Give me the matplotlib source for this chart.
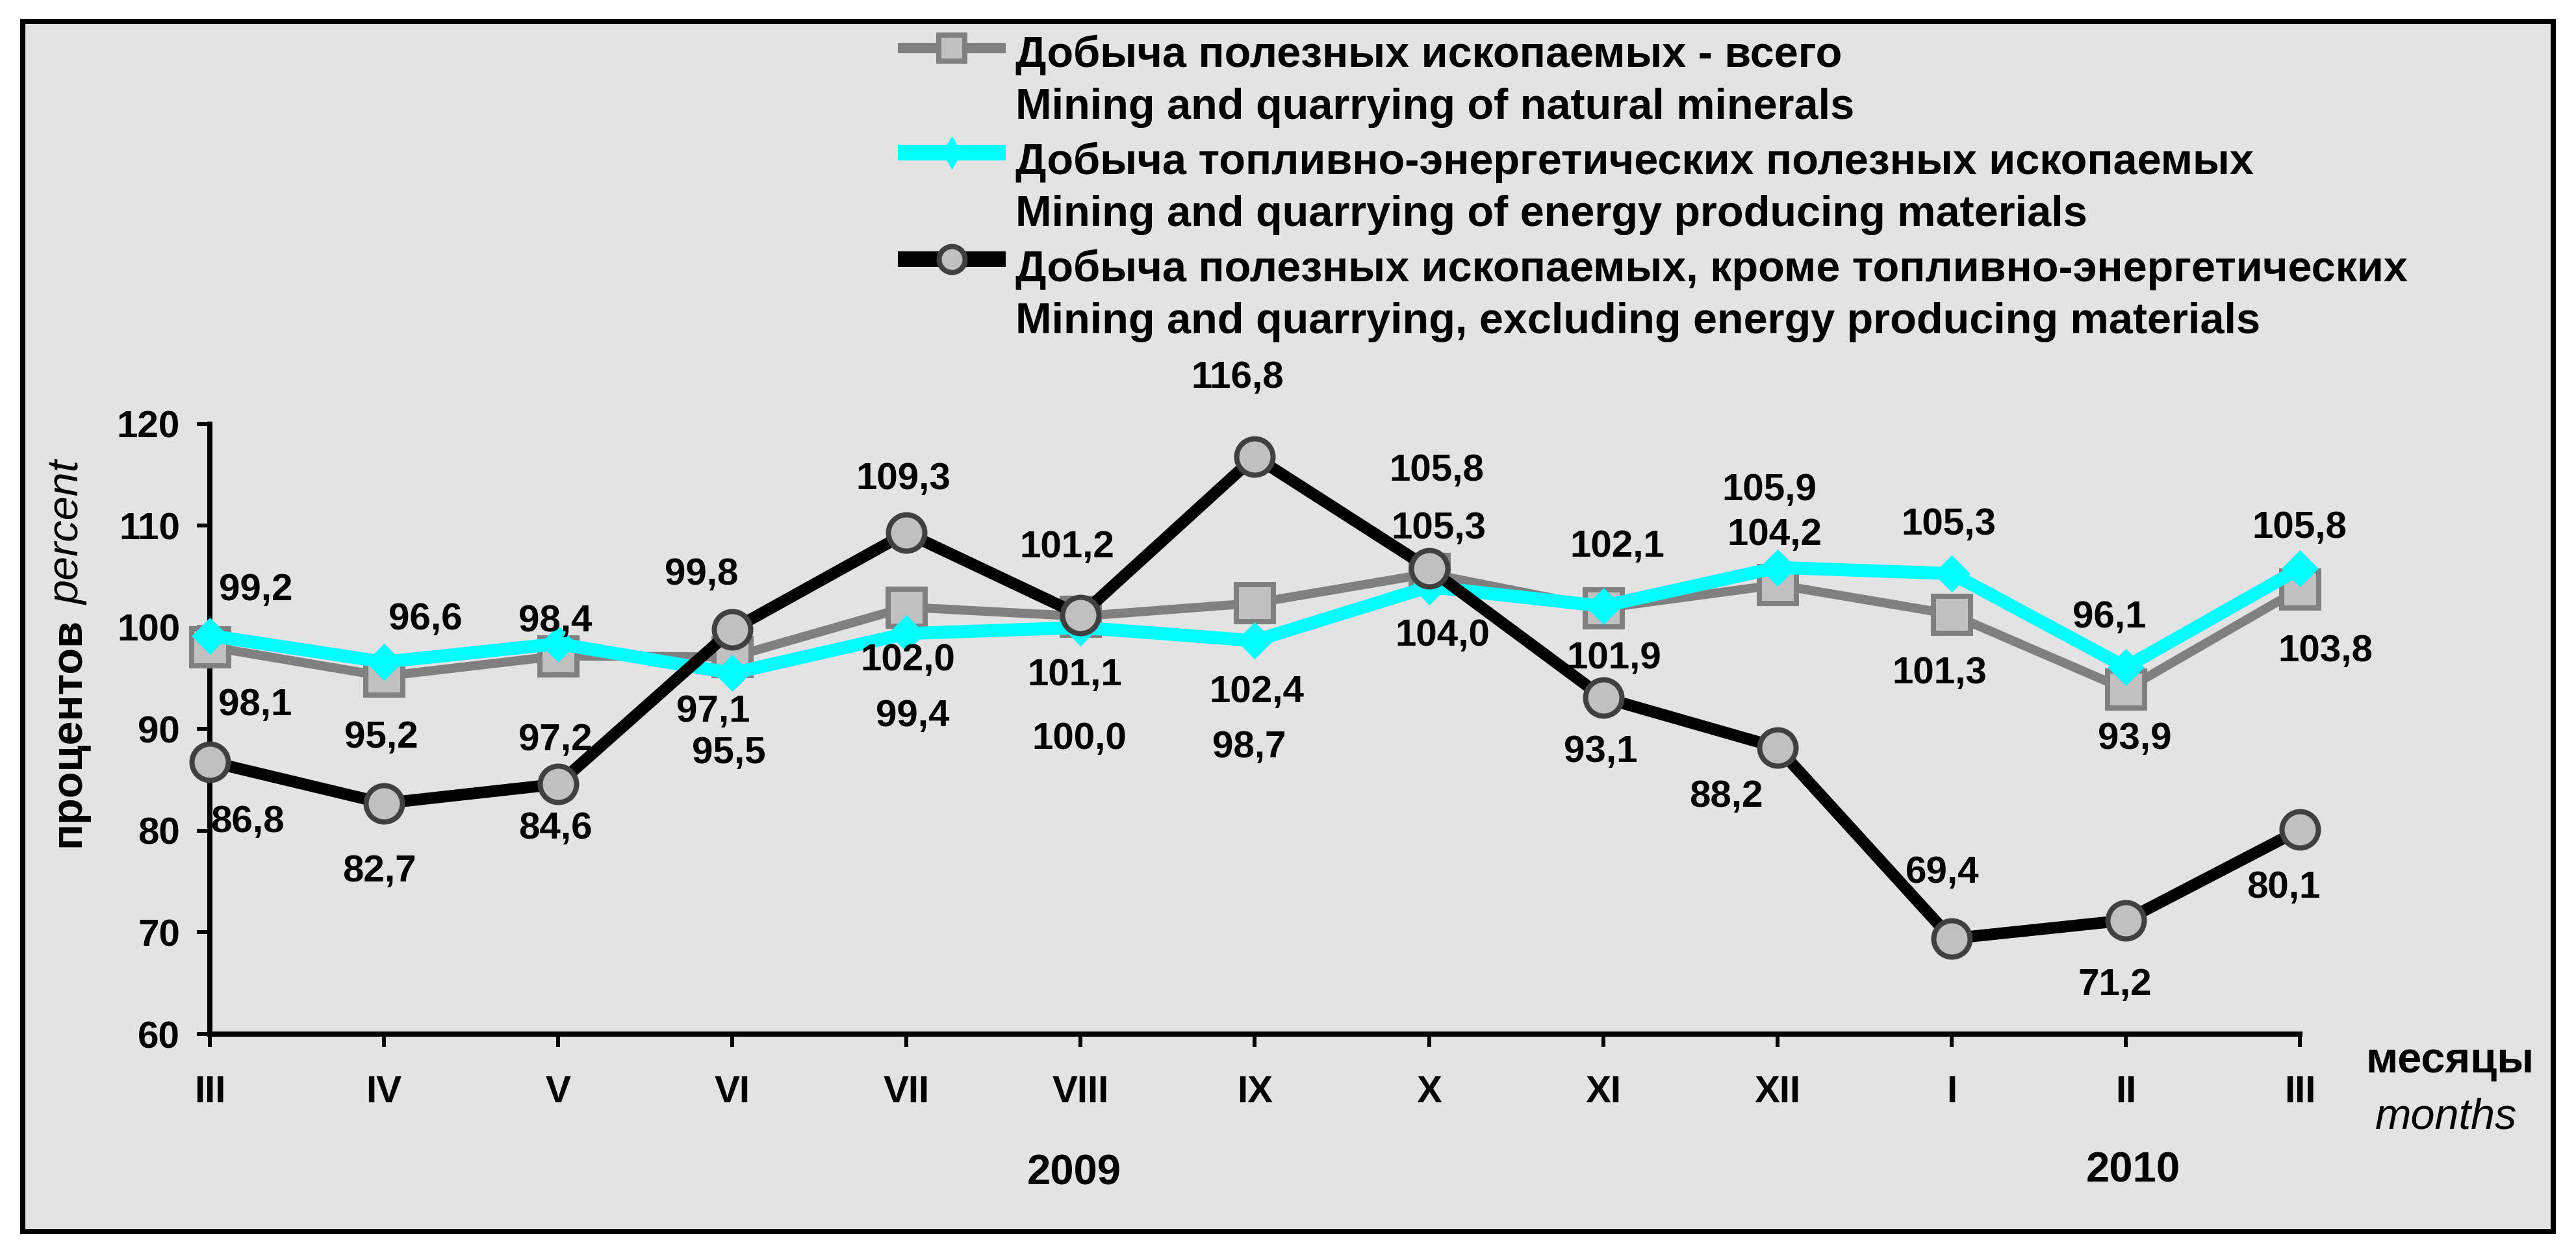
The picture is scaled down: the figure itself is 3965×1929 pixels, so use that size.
import matplotlib
matplotlib.use("Agg")
import matplotlib.pyplot as plt
from matplotlib.lines import Line2D
from matplotlib.patches import Rectangle

plt.rcParams['font.family'] = ['Liberation Sans', 'DejaVu Sans']

# ---------------- data ----------------
months = ['III', 'IV', 'V', 'VI', 'VII', 'VIII', 'IX', 'X', 'XI', 'XII', 'I', 'II', 'III']
total = [98.1, 95.2, 97.2, 97.1, 102.0, 101.1, 102.4, 105.3, 101.9, 104.2, 101.3, 93.9, 103.8]
energy = [99.2, 96.6, 98.4, 95.5, 99.4, 100.0, 98.7, 104.0, 102.1, 105.9, 105.3, 96.1, 105.8]
excl = [86.8, 82.7, 84.6, 99.8, 109.3, 101.2, 116.8, 105.8, 93.1, 88.2, 69.4, 71.2, 80.1]
yticks = [60, 70, 80, 90, 100, 110, 120]
years = ['2009', '2010']

lab_total = 'Добыча полезных ископаемых - всего'
lab_total_en = 'Mining and quarrying of natural minerals'
lab_energy = 'Добыча топливно-энергетических полезных ископаемых'
lab_energy_en = 'Mining and quarrying of energy producing materials'
lab_excl = 'Добыча полезных ископаемых, кроме топливно-энергетических'
lab_excl_en = 'Mining and quarrying, excluding energy producing materials'

# label offsets (pixels, dx right, dy down) of value labels relative to markers
off_total = [(70, 84), (-4, 89), (-4, 124), (-29, 79), (2, 76), (-9, 85), (3, 132),
             (15, -75), (17, 72), (-4, -82), (-19, 85), (14, 71), (39, 90)]
off_energy = [(71, -76), (64, -71), (-4, -40), (-5, 118), (9, 122), (-2, 166), (-9, 159),
              (21, 70), (22, -97), (-12, -125), (-4, -81), (-25, -82), (-1, -68)]
off_excl = [(58, 87), (-7, 99), (-4, 63), (-48, -90), (-5, -88), (-21, -110), (-27, -127),
            (12, -156), (-4, 78), (-79, 70), (-14, -107), (-17, 94), (-25, 84)]

W, H = 3966, 1929
DPI = 100
PT = 72.0 / DPI  # points per pixel

fig = plt.figure(figsize=(W / DPI, H / DPI), dpi=DPI, facecolor='white')


def fx(x):
    return x / W


def fy(y):
    return 1 - y / H


# frame
frame = Rectangle((fx(35), fy(1896)), fx(3930) - fx(35), fy(33) - fy(1896),
                  transform=fig.transFigure, facecolor='#e3e3e3', edgecolor='black',
                  linewidth=8 * PT, zorder=-10)
fig.add_artist(frame)

ax_l, ax_r, ax_t, ax_b = 323, 3540, 653, 1592
ax = fig.add_axes([fx(ax_l), fy(ax_b), fx(ax_r) - fx(ax_l), fy(ax_t) - fy(ax_b)])
ax.patch.set_visible(False)
x = list(range(len(months)))

ax.plot(x, total, color='#808080', lw=14 * PT, marker='s', ms=57 * PT,
        mfc='#c0c0c0', mec='#808080', mew=8 * PT, clip_on=False, zorder=3)
ax.plot(x, energy, color='#00ffff', lw=20 * PT, marker='D', ms=40 * PT,
        mfc='#00ffff', mec='#00ffff', mew=0.5, clip_on=False, zorder=4)
ax.plot(x, excl, color='black', lw=18 * PT, marker='o', ms=56 * PT,
        mfc='#c0c0c0', mec='#404040', mew=8 * PT, clip_on=False, zorder=5)

ax.set_xlim(0, 12)
ax.set_ylim(60, 120)
ax.set_yticks(yticks)
ax.set_xticks(x)
ax.set_xticklabels(months)
for s in ['top', 'right']:
    ax.spines[s].set_visible(False)
for s in ['left', 'bottom']:
    ax.spines[s].set_linewidth(8 * PT)
    ax.spines[s].set_color('black')
ax.tick_params(axis='both', direction='out', length=20 * PT, width=6 * PT,
               labelsize=42, colors='black')
ax.tick_params(axis='y', pad=26 * PT)
ax.tick_params(axis='x', pad=43 * PT)
for t in ax.get_xticklabels() + ax.get_yticklabels():
    t.set_fontweight('bold')

CAP = 21  # half cap height in px


def fmt(v):
    return f"{v:.1f}".replace('.', ',')


for vals, offs in [(total, off_total), (energy, off_energy), (excl, off_excl)]:
    for i, (v, (dx, dy)) in enumerate(zip(vals, offs)):
        ax.annotate(fmt(v), xy=(i, v), xytext=(dx * PT, -(dy + CAP) * PT),
                    textcoords='offset points', ha='center', va='baseline',
                    fontsize=42, fontweight='bold', color='black', zorder=6,
                    annotation_clip=False)

# legend (manual)
leg_x0, leg_x1, leg_text_x = 1382, 1548, 1563
leg_rows = [
    (74, 103, 183, lab_total, lab_total_en,
     dict(color='#808080', lw=16 * PT), dict(marker='s', ms=40 * PT, mfc='#c0c0c0', mec='#808080', mew=8 * PT)),
    (235, 268, 348, lab_energy, lab_energy_en,
     dict(color='#00ffff', lw=24 * PT), dict(marker='d', ms=35 * PT, mfc='#00ffff', mec='#00ffff', mew=0.5)),
    (399, 433, 513, lab_excl, lab_excl_en,
     dict(color='black', lw=24 * PT), dict(marker='o', ms=40 * PT, mfc='#c0c0c0', mec='#404040', mew=8 * PT)),
]
for ly, b1, b2, t1, t2, lkw, mkw in leg_rows:
    fig.add_artist(Line2D([fx(leg_x0), fx(leg_x1)], [fy(ly), fy(ly)],
                          transform=fig.transFigure, solid_capstyle='butt', **lkw))
    fig.add_artist(Line2D([fx((leg_x0 + leg_x1) / 2)], [fy(ly)], transform=fig.transFigure,
                          linestyle='none', **mkw))
    fig.text(fx(leg_text_x), fy(b1), t1, fontsize=48, fontweight='bold', ha='left', va='baseline')
    fig.text(fx(leg_text_x), fy(b2), t2, fontsize=48, fontweight='bold', ha='left', va='baseline')

# y label: bold Russian + italic English, rotated
ylab_x, ylab_y = 122, 1304
t_ru = fig.text(fx(ylab_x), fy(ylab_y), 'процентов', fontsize=48, fontweight='bold',
                rotation=90, rotation_mode='anchor', ha='left', va='baseline')
renderer = fig.canvas.get_renderer()
ext = t_ru.get_window_extent(renderer)
fig.text(fx(ylab_x), fy(ylab_y - ext.height - 20), 'percent', fontsize=48, fontstyle='italic',
         rotation=90, rotation_mode='anchor', ha='left', va='baseline')

# x axis label
fig.text(fx(3771), fy(1651), 'месяцы', fontsize=48, fontweight='bold', ha='center', va='baseline')
fig.text(fx(3765), fy(1737), 'months', fontsize=48, fontstyle='italic', ha='center', va='baseline')

# years
fig.text(fx(1653), fy(1823), years[0], fontsize=47, fontweight='bold', ha='center', va='baseline')
fig.text(fx(3283), fy(1820), years[1], fontsize=47, fontweight='bold', ha='center', va='baseline')

fig.savefig('out.png', dpi=DPI, facecolor='white')
